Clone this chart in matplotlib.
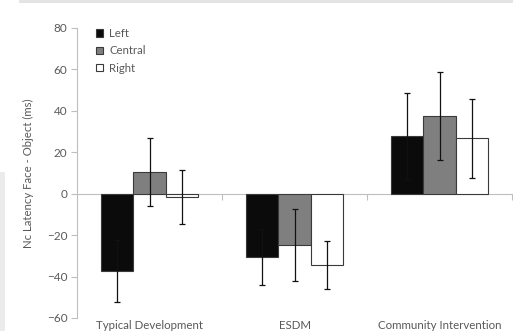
import numpy as np
import matplotlib.pyplot as plt
from matplotlib.patches import Patch, Rectangle

# group means and error bars (ms)
groups = ["Typical Development", "ESDM", "Community Intervention"]
conditions = ["Left", "Central", "Right"]
left_mean = [-37.5, -30.5, 27.8]
central_mean = [10.4, -24.9, 37.4]
right_mean = [-1.5, -34.4, 26.8]
left_err = [15.0, 13.4, 20.8]
central_err = [16.4, 17.3, 21.3]
right_err = [13.0, 11.5, 19.0]

fill_colors = ["#0b0b0b", "#7f7f7f", "#ffffff"]
grey_text = "#595959"
axis_grey = "#bfbfbf"

plt.rcParams['font.family'] = ['Lato', 'DejaVu Sans']

fig = plt.figure(figsize=(5.13, 3.31), dpi=100)

# page background pieces around the chart
fig.patches.append(Rectangle((19/513, 1 - 3/331), 1, 3/331, transform=fig.transFigure,
                             facecolor="#e4e4e4", edgecolor="none", zorder=0))
fig.patches.append(Rectangle((0, 0), 5/513, 159/331, transform=fig.transFigure,
                             facecolor="#ebebeb", edgecolor="none", zorder=0))

ax = fig.add_axes([77/513, 13/331, 435/513, 290/331])

x = np.arange(len(groups))
w = 0.224
means = [left_mean, central_mean, right_mean]
errs = [left_err, central_err, right_err]
for k in range(3):
	ax.bar(x + (k - 1) * w, means[k], w, color=fill_colors[k], edgecolor="#3a3a3a",
		   linewidth=0.8, zorder=2, label=conditions[k])
	ax.errorbar(x + (k - 1) * w, means[k], yerr=errs[k], fmt="none", ecolor="#111111",
				elinewidth=0.9, capsize=2.3, capthick=0.9, zorder=3)

ax.set_xlim(-0.5, 2.5)
ax.set_ylim(-60, 80)
ax.set_yticks(np.arange(-60, 81, 20))

for s in ["top", "right"]:
	ax.spines[s].set_visible(False)
ax.spines["left"].set_color(axis_grey)
ax.spines["bottom"].set_color(axis_grey)
ax.spines["bottom"].set_position(("data", 0))
ax.spines["bottom"].set_zorder(1)

ax.set_xticks([0.5, 1.5, 2.5])
ax.set_xticklabels([])
ax.tick_params(axis="x", direction="out", length=4, color=axis_grey)
ax.tick_params(axis="y", direction="out", length=4, color=axis_grey,
			   labelsize=8.5, labelcolor=grey_text, pad=3)

for i, g in enumerate(groups):
	ax.text(i, -61.0, g, ha="center", va="top", fontsize=8.3, color=grey_text)

ax.set_ylabel("Nc Latency Face - Object (ms)", fontsize=8.2, color=grey_text, labelpad=9)

handles = [Patch(facecolor=fill_colors[k], edgecolor="#3a3a3a", linewidth=0.8) for k in range(3)]
ax.legend(handles, conditions, loc="upper left", bbox_to_anchor=(0.02, 1.035), frameon=False,
		  fontsize=8.2, labelcolor=grey_text, handlelength=0.65, handleheight=0.65,
		  handletextpad=0.5, labelspacing=0.55)

fig.savefig("out.png", dpi=100)
